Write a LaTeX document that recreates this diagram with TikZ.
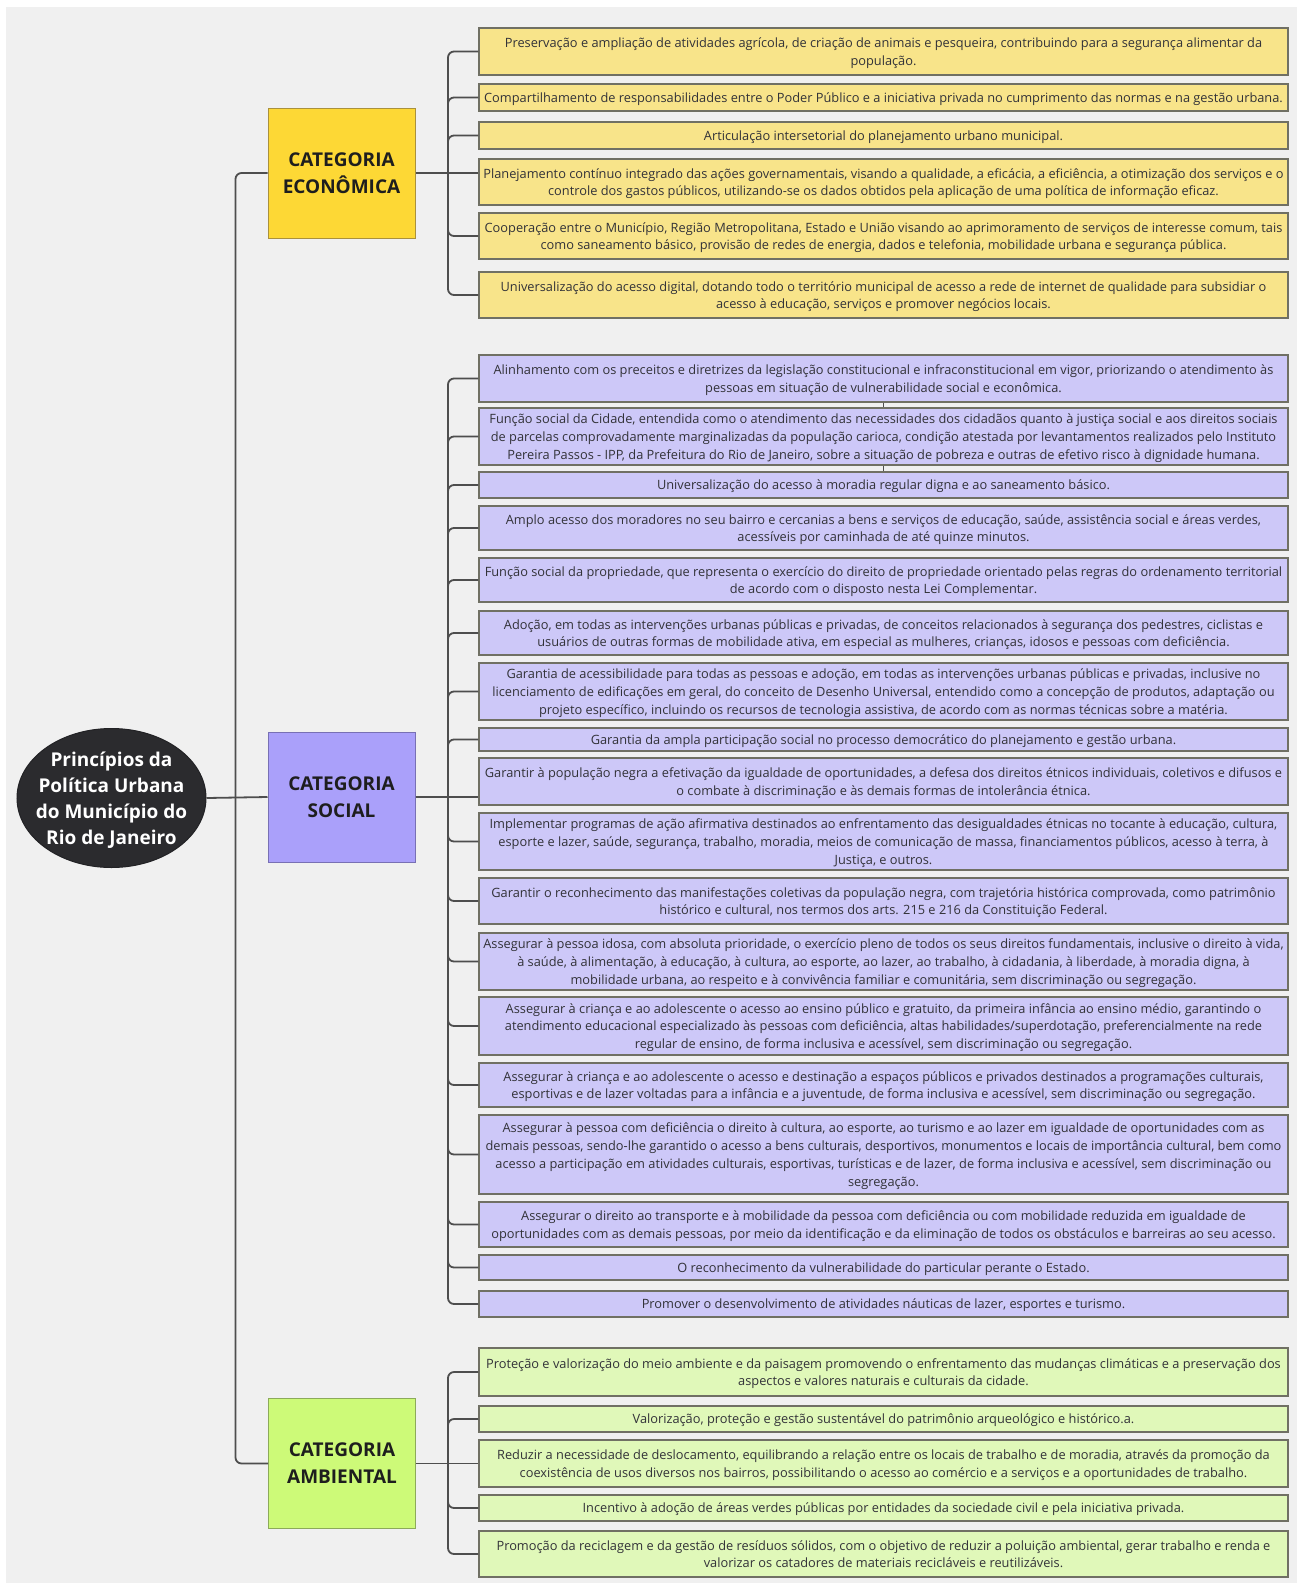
\documentclass[tikz,border=0pt]{standalone}
\usepackage{fontspec}
\setmainfont{Open Sans}
\usetikzlibrary{shapes.geometric}
\definecolor{bgc}{RGB}{240,240,240}
\definecolor{linec}{RGB}{78,78,78}
\definecolor{txtc}{RGB}{50,50,56}
\definecolor{itemborder}{RGB}{112,112,100}
\definecolor{econc}{RGB}{253,216,53}
\definecolor{econb}{RGB}{170,145,60}
\definecolor{econi}{RGB}{248,228,138}
\definecolor{socc}{RGB}{170,160,250}
\definecolor{socb}{RGB}{120,112,180}
\definecolor{soci}{RGB}{205,200,248}
\definecolor{ambc}{RGB}{205,250,120}
\definecolor{ambb}{RGB}{140,170,90}
\definecolor{ambi}{RGB}{224,248,185}
\definecolor{rootc}{RGB}{43,43,46}
\tikzset{
  conn/.style={draw=linec, line width=1.8pt, rounded corners=6pt},
  tick/.style={draw=linec, line width=1.3pt},
  item/.style={draw=itemborder, line width=1.1pt, minimum width=809pt, inner sep=0pt,
    align=center, text=txtc, text depth=0pt, font=\fontsize{12.8}{17.8}\selectfont},
  econitem/.style={item, fill=econi},
  socitem/.style={item, fill=soci},
  ambitem/.style={item, fill=ambi},
  cat/.style={line width=1pt, minimum width=147pt, minimum height=130pt, inner sep=0pt,
    align=center, text={rgb,255:red,30;green,30;blue,30}, text depth=0pt, font=\fontsize{19}{27}\selectfont\bfseries},
}
\begin{document}
\begin{tikzpicture}[x=1pt,y=-1pt]
\useasboundingbox (0,0) rectangle (1297,1583);
\fill[white] (0,0) rectangle (1297,1583);
\fill[bgc] (6,7) rectangle (1297,1583);

% root
\node[ellipse, fill=rootc, draw=rootc!80!black, line width=1pt, minimum width=189pt, minimum height=139pt, inner sep=0pt] (root) at (111.5,798) {};
\node[align=center, text=white, inner sep=0pt, text depth=0pt, font=\fontsize{19}{26}\selectfont\bfseries] (roottext) at (root.center)
  {Princípios da\\Política Urbana\\do Município do\\Rio de Janeiro};

% categories
\node[cat, fill=econc, draw=econb] (econ) at (341.5,173) {CATEGORIA\\ECONÔMICA};
\node[cat, fill=socc, draw=socb] (social) at (341.5,797) {CATEGORIA\\SOCIAL};
\node[cat, fill=ambc, draw=ambb] (amb) at (342,1463.5) {CATEGORIA\\AMBIENTAL};

% economic items
\node[econitem, minimum height=47pt] (e1) at (883.5,51.5) {Preservação e ampliação de atividades agrícola, de criação de animais e pesqueira, contribuindo para a segurança alimentar da\\população.};
\node[econitem, minimum height=27pt] (e2) at (883.5,97.5) {Compartilhamento de responsabilidades entre o Poder Público e a iniciativa privada no cumprimento das normas e na gestão urbana.};
\node[econitem, minimum height=27pt] (e3) at (883.5,135.5) {Articulação intersetorial do planejamento urbano municipal.};
\node[econitem, minimum height=46pt] (e4) at (883.5,182) {Planejamento contínuo integrado das ações governamentais, visando a qualidade, a eficácia, a eficiência, a otimização dos serviços e o\\controle dos gastos públicos, utilizando-se os dados obtidos pela aplicação de uma política de informação eficaz.};
\node[econitem, minimum height=46pt] (e5) at (883.5,236) {Cooperação entre o Município, Região Metropolitana, Estado e União visando ao aprimoramento de serviços de interesse comum, tais\\como saneamento básico, provisão de redes de energia, dados e telefonia, mobilidade urbana e segurança pública.};
\node[econitem, minimum height=46pt] (e6) at (883.5,295) {Universalização do acesso digital, dotando todo o território municipal de acesso a rede de internet de qualidade para subsidiar o\\acesso à educação, serviços e promover negócios locais.};

% social items
\node[socitem, minimum height=47pt] (s1) at (883.5,378.5) {Alinhamento com os preceitos e diretrizes da legislação constitucional e infraconstitucional em vigor, priorizando o atendimento às\\pessoas em situação de vulnerabilidade social e econômica.};
\node[socitem, minimum height=57pt] (s2) at (883.5,436.5) {Função social da Cidade, entendida como o atendimento das necessidades dos cidadãos quanto à justiça social e aos direitos sociais\\de parcelas comprovadamente marginalizadas da população carioca, condição atestada por levantamentos realizados pelo Instituto\\Pereira Passos - IPP, da Prefeitura do Rio de Janeiro, sobre a situação de pobreza e outras de efetivo risco à dignidade humana.};
\node[socitem, minimum height=26pt] (s3) at (883.5,485) {Universalização do acesso à moradia regular digna e ao saneamento básico.};
\node[socitem, minimum height=44pt] (s4) at (883.5,528) {Amplo acesso dos moradores no seu bairro e cercanias a bens e serviços de educação, saúde, assistência social e áreas verdes,\\acessíveis por caminhada de até quinze minutos.};
\node[socitem, minimum height=44pt] (s5) at (883.5,580) {Função social da propriedade, que representa o exercício do direito de propriedade orientado pelas regras do ordenamento territorial\\de acordo com o disposto nesta Lei Complementar.};
\node[socitem, minimum height=44pt] (s6) at (883.5,633) {Adoção, em todas as intervenções urbanas públicas e privadas, de conceitos relacionados à segurança dos pedestres, ciclistas e\\usuários de outras formas de mobilidade ativa, em especial as mulheres, crianças, idosos e pessoas com deficiência.};
\node[socitem, minimum height=57pt] (s7) at (883.5,691.5) {Garantia de acessibilidade para todas as pessoas e adoção, em todas as intervenções urbanas públicas e privadas, inclusive no\\licenciamento de edificações em geral, do conceito de Desenho Universal, entendido como a concepção de produtos, adaptação ou\\projeto específico, incluindo os recursos de tecnologia assistiva, de acordo com as normas técnicas sobre a matéria.};
\node[socitem, minimum height=23pt] (s8) at (883.5,739.5) {Garantia da ampla participação social no processo democrático do planejamento e gestão urbana.};
\node[socitem, minimum height=47pt] (s9) at (883.5,781.5) {Garantir à população negra a efetivação da igualdade de oportunidades, a defesa dos direitos étnicos individuais, coletivos e difusos e\\o combate à discriminação e às demais formas de intolerância étnica.};
\node[socitem, minimum height=57pt] (s10) at (883.5,841.5) {Implementar programas de ação afirmativa destinados ao enfrentamento das desigualdades étnicas no tocante à educação, cultura,\\esporte e lazer, saúde, segurança, trabalho, moradia, meios de comunicação de massa, financiamentos públicos, acesso à terra, à\\Justiça, e outros.};
\node[socitem, minimum height=46pt] (s11) at (883.5,901) {Garantir o reconhecimento das manifestações coletivas da população negra, com trajetória histórica comprovada, como patrimônio\\histórico e cultural, nos termos dos arts. 215 e 216 da Constituição Federal.};
\node[socitem, minimum height=57pt] (s12) at (883.5,961.5) {Assegurar à pessoa idosa, com absoluta prioridade, o exercício pleno de todos os seus direitos fundamentais, inclusive o direito à vida,\\à saúde, à alimentação, à educação, à cultura, ao esporte, ao lazer, ao trabalho, à cidadania, à liberdade, à moradia digna, à\\mobilidade urbana, ao respeito e à convivência familiar e comunitária, sem discriminação ou segregação.};
\node[socitem, minimum height=58pt] (s13) at (883.5,1026) {Assegurar à criança e ao adolescente o acesso ao ensino público e gratuito, da primeira infância ao ensino médio, garantindo o\\atendimento educacional especializado às pessoas com deficiência, altas habilidades/superdotação, preferencialmente na rede\\regular de ensino, de forma inclusiva e acessível, sem discriminação ou segregação.};
\node[socitem, minimum height=44pt] (s14) at (883.5,1085) {Assegurar à criança e ao adolescente o acesso e destinação a espaços públicos e privados destinados a programações culturais,\\esportivas e de lazer voltadas para a infância e a juventude, de forma inclusiva e acessível, sem discriminação ou segregação.};
\node[socitem, minimum height=79pt] (s15) at (883.5,1154.5) {Assegurar à pessoa com deficiência o direito à cultura, ao esporte, ao turismo e ao lazer em igualdade de oportunidades com as\\demais pessoas, sendo-lhe garantido o acesso a bens culturais, desportivos, monumentos e locais de importância cultural, bem como\\acesso a participação em atividades culturais, esportivas, turísticas e de lazer, de forma inclusiva e acessível, sem discriminação ou\\segregação.};
\node[socitem, minimum height=45pt] (s16) at (883.5,1224.5) {Assegurar o direito ao transporte e à mobilidade da pessoa com deficiência ou com mobilidade reduzida em igualdade de\\oportunidades com as demais pessoas, por meio da identificação e da eliminação de todos os obstáculos e barreiras ao seu acesso.};
\node[socitem, minimum height=25pt] (s17) at (883.5,1267.5) {O reconhecimento da vulnerabilidade do particular perante o Estado.};
\node[socitem, minimum height=26pt] (s18) at (883.5,1304) {Promover o desenvolvimento de atividades náuticas de lazer, esportes e turismo.};

% environmental items
\node[ambitem, minimum height=48pt] (a1) at (883.5,1372) {Proteção e valorização do meio ambiente e da paisagem promovendo o enfrentamento das mudanças climáticas e a preservação dos\\aspectos e valores naturais e culturais da cidade.};
\node[ambitem, minimum height=26pt] (a2) at (883.5,1419) {Valorização, proteção e gestão sustentável do patrimônio arqueológico e histórico.a.};
\node[ambitem, minimum height=47pt] (a3) at (883.5,1463.5) {Reduzir a necessidade de deslocamento, equilibrando a relação entre os locais de trabalho e de moradia, através da promoção da\\coexistência de usos diversos nos bairros, possibilitando o acesso ao comércio e a serviços e a oportunidades de trabalho.};
\node[ambitem, minimum height=26pt] (a4) at (883.5,1508) {Incentivo à adoção de áreas verdes públicas por entidades da sociedade civil e pela iniciativa privada.};
\node[ambitem, minimum height=46pt] (a5) at (883.5,1554) {Promoção da reciclagem e da gestão de resíduos sólidos, com o objetivo de reduzir a poluição ambiental, gerar trabalho e renda e\\valorizar os catadores de materiais recicláveis e reutilizáveis.};

% trunk connectors
\draw[conn] (root.east) -- (social.west);
\draw[conn] (econ.west) -- ++(-32,0) |- (amb.west);

% economic bracket
\coordinate (ej) at (448,173);
\draw[conn] (econ.east) -- (e4.west |- econ.east);
\foreach \n in {e1,e2,e3,e5,e6} \draw[conn] (ej) |- (\n.west);

% social bracket
\coordinate (sj) at (448,797);
\draw[conn] (social.east) -- (s9.west |- social.east);
\foreach \n in {s1,s2,s3,s4,s5,s6,s7,s8,s10,s11,s12,s13,s14,s15,s16,s17,s18} \draw[conn] (sj) |- (\n.west);
\draw[tick] (s1.south) -- (s2.north);
\draw[tick] (s2.south) -- (s3.north);

% environmental bracket
\coordinate (aj) at (448,1463.5);
\draw[conn] (amb.east) -- (a3.west);
\foreach \n in {a1,a2,a4,a5} \draw[conn] (aj) |- (\n.west);
\end{tikzpicture}
\end{document}
